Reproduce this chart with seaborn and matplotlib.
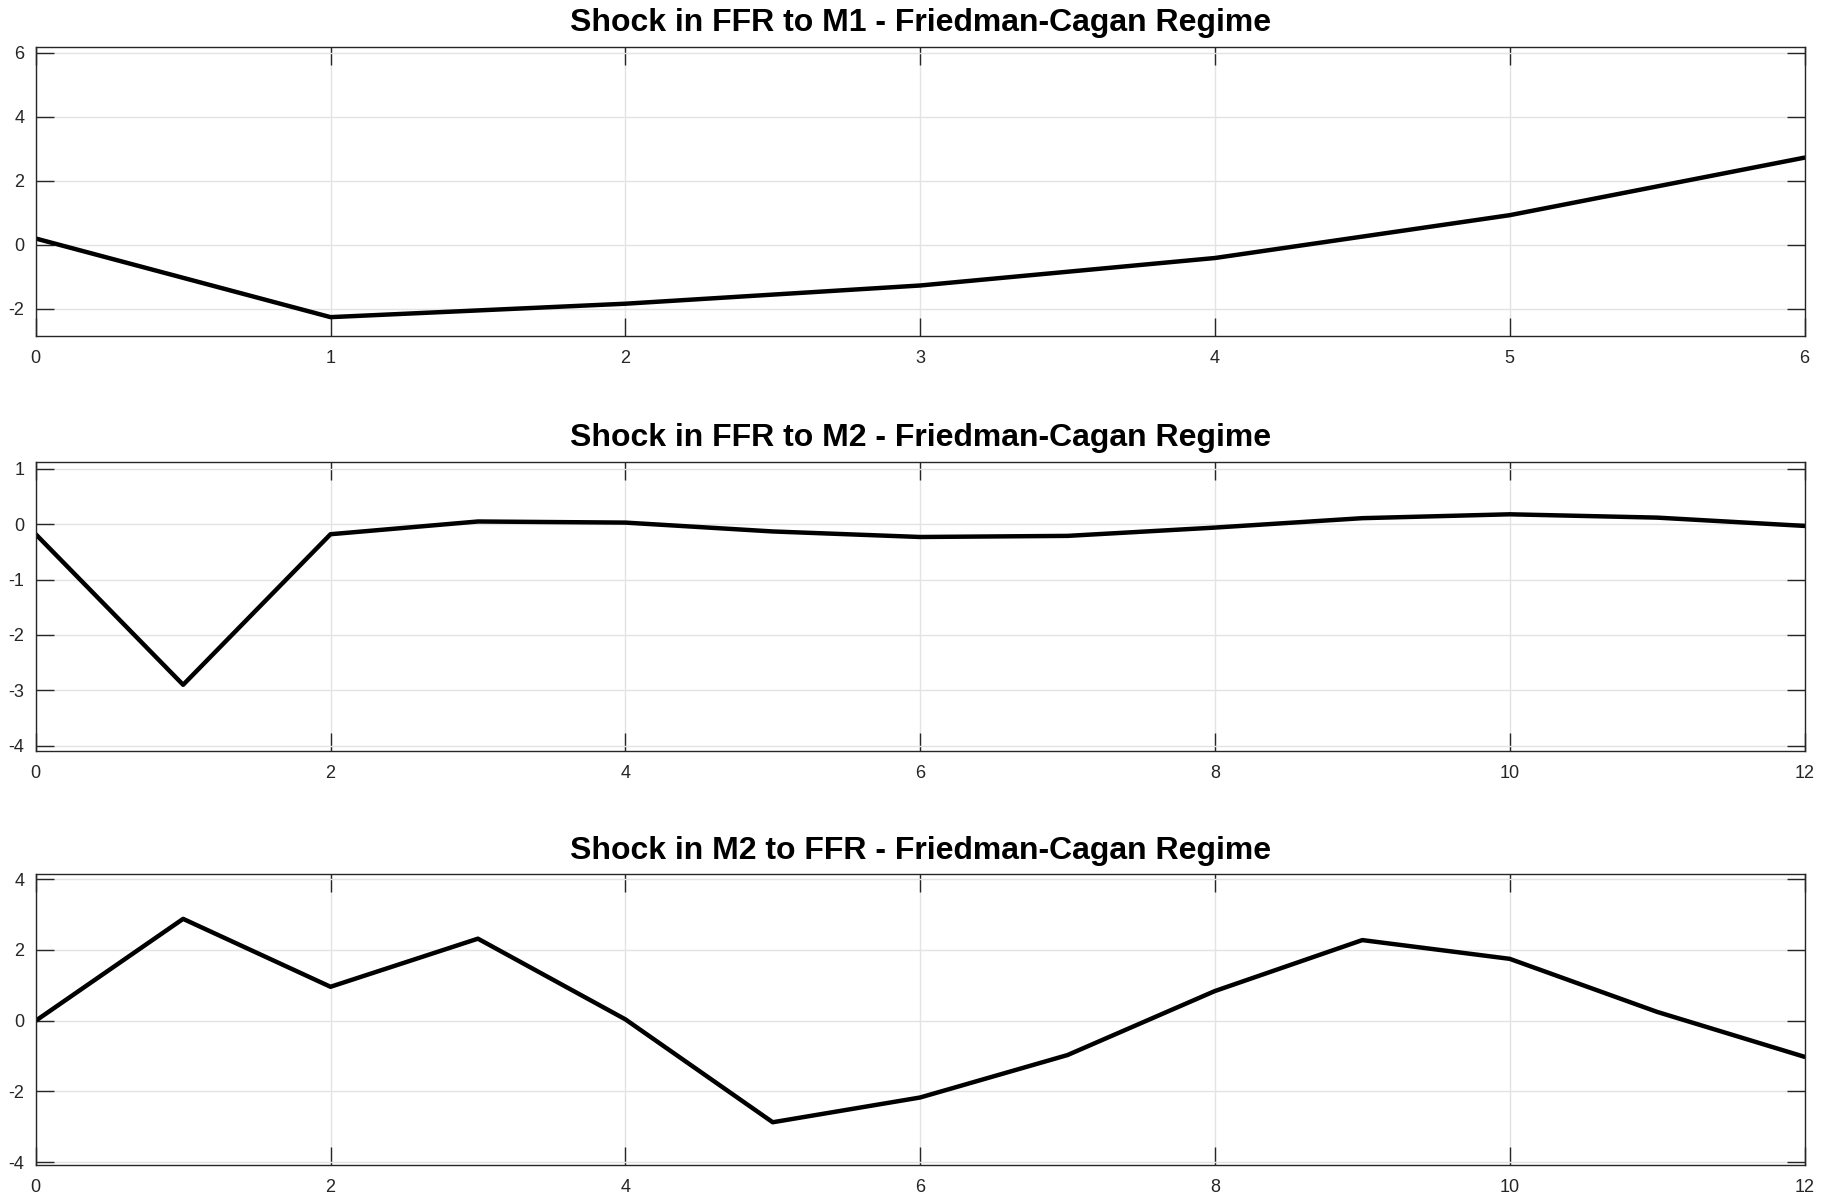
import matplotlib
matplotlib.use("Agg")
import matplotlib.pyplot as plt
import seaborn as sns
import numpy as np
import pandas as pd

# ---- data ----
titles = [
    "Shock in FFR to M1 - Friedman-Cagan Regime",
    "Shock in FFR to M2 - Friedman-Cagan Regime",
    "Shock in M2 to FFR - Friedman-Cagan Regime",
]
h1 = [0, 1, 2, 3, 4, 5, 6]
irf_ffr_m1 = [0.19, -2.27, -1.85, -1.28, -0.42, 0.92, 2.72]
h2 = list(range(13))
irf_ffr_m2 = [-0.18, -2.90, -0.18, 0.05, 0.03, -0.13, -0.23, -0.21, -0.06, 0.11, 0.18, 0.12, -0.03]
h3 = list(range(13))
irf_m2_ffr = [0.0, 2.88, 0.96, 2.32, 0.04, -2.87, -2.17, -0.97, 0.84, 2.28, 1.75, 0.25, -1.02]

xticks_1 = [0, 1, 2, 3, 4, 5, 6]
xticks_2 = [0, 2, 4, 6, 8, 10, 12]
yticks_1 = [-2, 0, 2, 4, 6]
yticks_2 = [-4, -3, -2, -1, 0, 1]
yticks_3 = [-4, -2, 0, 2, 4]
ylims = [(-2.85, 6.19), (-4.09, 1.13), (-4.08, 4.14)]
xlims = [(0, 6), (0, 12), (0, 12)]

sns.set_theme(style="white")
fams = ['Liberation Sans Narrow', 'Liberation Sans', 'DejaVu Sans']
plt.rcParams['font.family'] = fams

fig = plt.figure(figsize=(18.32, 11.98), dpi=100)
left, right = 0.0195, 0.985
boxes = [(0.7198, 0.961), (0.3734, 0.6146), (0.0275, 0.2702)]

series = [(h1, irf_ffr_m1, xticks_1, yticks_1),
          (h2, irf_ffr_m2, xticks_2, yticks_2),
          (h3, irf_m2_ffr, xticks_2, yticks_3)]

for i, ((b, t), (xs, ys, xt, yt)) in enumerate(zip(boxes, series)):
    ax = fig.add_axes([left, b, right - left, t - b])
    df = pd.DataFrame({"h": xs, "v": ys})
    sns.lineplot(data=df, x="h", y="v", ax=ax, color="black", linewidth=3.2)
    ax.set_xlim(*xlims[i])
    ax.set_ylim(*ylims[i])
    ax.set_xticks(xt)
    ax.set_yticks(yt)
    ax.set_xticklabels([str(v) for v in xt])
    ax.set_yticklabels([str(v) for v in yt])
    ax.set_xlabel("")
    ax.set_ylabel("")
    ax.grid(True, color="#e3e3e3", linewidth=1.0)
    ax.set_axisbelow(True)
    for s in ax.spines.values():
        s.set_visible(True)
        s.set_color("#262626")
        s.set_linewidth(1.0)
    ax.tick_params(axis="both", which="major", direction="in", length=13,
                   width=1.0, color="#262626", labelsize=13, labelcolor="#262626",
                   top=True, right=True, bottom=True, left=True)
    ax.tick_params(axis="x", pad=10)
    ax.tick_params(axis="y", pad=8)
    ax.set_title(titles[i], fontsize=23, fontweight="bold", pad=11,
                 color="black", family=fams)

fig.savefig("out.png", dpi=100, facecolor="white")
